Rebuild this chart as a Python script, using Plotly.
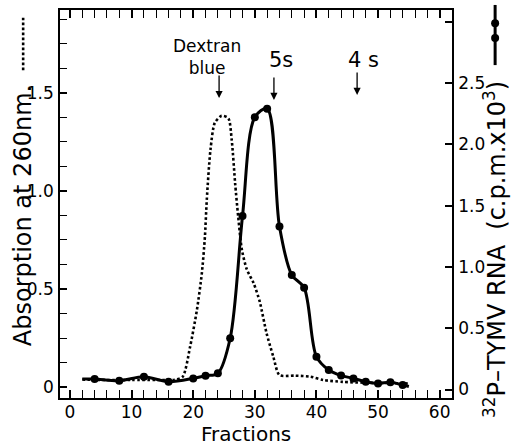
import plotly.graph_objects as go

# ---- data ----
# 32P-TYMV RNA (c.p.m. x 10^3), measured fractions (markers)
rna_frac = [4, 8, 12, 16, 20, 22, 24, 26, 28, 30, 32, 34, 36, 38, 40, 42, 44, 46, 48, 50, 52, 54]
rna_cpm = [0.086, 0.072, 0.104, 0.064, 0.091, 0.113, 0.132, 0.418, 1.415, 2.22, 2.29, 1.33,
           0.934, 0.83, 0.268, 0.159, 0.114, 0.091, 0.064, 0.05, 0.059, 0.037]
# drawn curve ends (line only, no markers)
rna_line_start = (2.0, 0.086)
rna_line_end = (55.0, 0.025)

# Absorption at 260 nm (dotted curve)
abs_frac = [2, 6, 10, 14, 17, 18.3, 19.5, 20.6, 21.4, 21.9, 22.2, 22.8, 23.5, 24.6, 25.7, 26.25,
            26.8, 27.3, 27.9, 28.7, 29.8, 30.8, 31.9, 33.0, 34.0, 36.5, 39.0, 41.1, 44.3, 48, 52, 55]
abs_val = [0.038, 0.036, 0.036, 0.036, 0.037, 0.053, 0.206, 0.393, 0.58, 0.767, 0.954, 1.21, 1.347,
           1.383, 1.371, 1.26, 1.04, 0.869, 0.70, 0.60, 0.53, 0.435, 0.275, 0.155, 0.061, 0.058,
           0.053, 0.036, 0.026, 0.022, 0.02, 0.018]

# marker positions (fractions) of reference peaks
arrow_frac = {"Dextran<br>blue": 24.2, "5s": 33.1, "4 s": 46.6}

x_ticks = [0, 10, 20, 30, 40, 50, 60]
left_ticks = [0, 0.5, 1.0, 1.5]
left_ticktext = ["0", "0.5", "1.0", "1.5"]
right_ticks = [0, 0.5, 1.0, 1.5, 2.0, 2.5, 3.0]
right_ticktext = ["0", "0.5", "1.0", "1.5", "2.0", "2.5", ""]

FONT = "DejaVu Sans"
INK = "black"

fig = go.Figure()

# dotted absorption curve (left axis)
fig.add_trace(go.Scatter(
    x=abs_frac, y=abs_val, mode="lines",
    line=dict(color=INK, width=2.6, dash="2.6px,2.4px", shape="spline", smoothing=0.7),
    yaxis="y", showlegend=False, hoverinfo="skip"))

# solid RNA curve (right axis)
line_x = [rna_line_start[0]] + rna_frac + [rna_line_end[0]]
line_y = [rna_line_start[1]] + rna_cpm + [rna_line_end[1]]
fig.add_trace(go.Scatter(
    x=line_x, y=line_y, mode="lines",
    line=dict(color=INK, width=3, shape="spline", smoothing=0.9),
    yaxis="y2", showlegend=False, hoverinfo="skip"))
fig.add_trace(go.Scatter(
    x=rna_frac, y=rna_cpm, mode="markers",
    marker=dict(color=INK, size=8),
    yaxis="y2", showlegend=False, hoverinfo="skip"))

# peak labels and arrows
label_pos = {"Dextran<br>blue": (22.2, 1.684, 17), "5s": (34.3, 1.67, 21), "4 s": (47.6, 1.67, 21)}
tip_pos = {"Dextran<br>blue": 1.474, "5s": 1.464, "4 s": 1.49}
for key, xf in arrow_frac.items():
    lx, ly, fs = label_pos[key]
    fig.add_annotation(x=lx, y=ly, xref="x", yref="y", text=key, showarrow=False,
                       xanchor="center", yanchor="middle",
                       font=dict(family=FONT, size=fs, color=INK), align="center")
    fig.add_annotation(x=xf, y=tip_pos[key], xref="x", yref="y", text="", showarrow=True,
                       ax=0, ay=-24, arrowhead=2, arrowsize=1.1, arrowwidth=1.3,
                       arrowcolor=INK)

# axis titles
fig.add_annotation(x=-0.094, y=0.469, xref="paper", yref="paper",
                   xanchor="center", yanchor="middle",
                   text="Absorption at 260nm.", textangle=-90, showarrow=False,
                   font=dict(family=FONT, size=24, color=INK))
fig.add_annotation(x=1.11, y=0.382, xref="paper", yref="paper",
                   xanchor="center", yanchor="middle",
                   text="<sup>32</sup>P–TYMV RNA  (c.p.m.x10<sup>3</sup>)", textangle=-90,
                   showarrow=False, font=dict(family=FONT, size=24, color=INK))
fig.add_annotation(x=0.475, y=-0.093, xref="paper", yref="paper", text="Fractions",
                   xanchor="center", yanchor="middle",
                   showarrow=False, font=dict(family=FONT, size=20, color=INK))

# legend keys beside titles
fig.add_shape(type="line", xref="paper", yref="paper", x0=-0.094, x1=-0.094,
              y0=0.845, y1=0.98, line=dict(color=INK, width=2.6, dash="2.6px,2.4px"))
fig.add_shape(type="line", xref="paper", yref="paper", x0=1.11, x1=1.11,
              y0=0.858, y1=1.013, line=dict(color=INK, width=3))
for yc in (0.966, 0.928):
    fig.add_shape(type="circle", xref="paper", yref="paper",
                  xsizemode="pixel", ysizemode="pixel", xanchor=1.11, yanchor=yc,
                  x0=-4, x1=4, y0=-4, y1=4, fillcolor=INK, line=dict(color=INK, width=0))

axis_common = dict(showgrid=False, zeroline=False, showline=True, linecolor=INK,
                   linewidth=1.6, ticks="inside", tickcolor=INK, tickwidth=1.5,
                   automargin=False,
                   tickfont=dict(family=FONT, size=17, color=INK))

fig.update_layout(
    width=513, height=445,
    margin=dict(l=60, r=61, t=10, b=47, autoexpand=False),
    paper_bgcolor="white", plot_bgcolor="white",
    xaxis=dict(range=[-1.62, 62.0], tickvals=x_ticks, ticklen=8, mirror="allticks",
               ticklabelstandoff=-2,
               minor=dict(dtick=2, tick0=0, ticks="inside", ticklen=5, tickcolor=INK,
                          tickwidth=1.3),
               **axis_common),
    yaxis=dict(range=[-0.056, 1.923], tickvals=left_ticks, ticktext=left_ticktext,
               ticklen=7, mirror=True, ticklabelstandoff=1,
               minor=dict(dtick=0.125, tick0=0, ticks="inside", ticklen=7,
                          tickcolor=INK, tickwidth=1.3),
               **axis_common),
    yaxis2=dict(range=[-0.069, 3.095], tickvals=right_ticks, ticktext=right_ticktext,
                overlaying="y", side="right", ticklen=7, ticklabelstandoff=1,
                **axis_common),
)

fig.write_html("out.html", config={"displayModeBar": False},
               post_script="document.body.style.margin='0';document.body.style.overflow='hidden';")
